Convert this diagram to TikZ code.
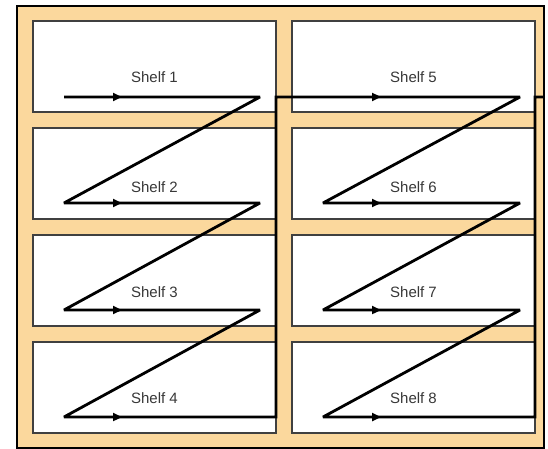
\documentclass[tikz,border=0pt]{standalone}
\usepackage{fontspec}
\setmainfont{Liberation Sans}
\usetikzlibrary{arrows.meta}
\definecolor{shelftan}{RGB}{251,216,157}
\begin{document}
\begin{tikzpicture}[x=1pt,y=-1pt,
  framebox/.style={draw=black,line width=1.8pt,fill=shelftan},
  shelfbox/.style={draw=black!75,line width=1.2pt,fill=white,minimum width=243pt,minimum height=91pt,inner sep=0pt,outer sep=0pt,anchor=north west},
  shelflabel/.style={font=\fontsize{15}{17}\selectfont,text=black!78,inner sep=0pt},
  route/.style={line width=2.8pt,line join=miter,miter limit=3},
  tipline/.style={line width=2.8pt,-{Triangle[length=9pt,width=8pt]}}]
\useasboundingbox (0,0) rectangle (548,449);
\node[framebox,minimum width=527pt,minimum height=442pt,inner sep=0pt,anchor=north west] (frame) at (16,5) {};
% shelves
\node[shelfbox] (s1) at (33,21) {};
\node[shelfbox] (s2) at (33,128) {};
\node[shelfbox] (s3) at (33,235) {};
\node[shelfbox] (s4) at (33,342) {};
\node[shelfbox] (s5) at (292,21) {};
\node[shelfbox] (s6) at (292,128) {};
\node[shelfbox] (s7) at (292,235) {};
\node[shelfbox] (s8) at (292,342) {};
% labels
\node[shelflabel] (t1) at (154.5,77) {Shelf 1};
\node[shelflabel] (t2) at (154.5,187) {Shelf 2};
\node[shelflabel] (t3) at (154.5,292) {Shelf 3};
\node[shelflabel] (t4) at (154.5,398) {Shelf 4};
\node[shelflabel] (t5) at (413.5,77) {Shelf 5};
\node[shelflabel] (t6) at (413.5,187) {Shelf 6};
\node[shelflabel] (t7) at (413.5,292) {Shelf 7};
\node[shelflabel] (t8) at (413.5,398) {Shelf 8};
% route points
\coordinate (a1) at (64,97);  \coordinate (b1) at (260,97);
\coordinate (a2) at (64,203); \coordinate (b2) at (260,203);
\coordinate (a3) at (64,310); \coordinate (b3) at (260,310);
\coordinate (a4) at (64,417); \coordinate (b4) at (276,417);
\coordinate (up1) at (276,97);
\coordinate (b5) at (520,97);
\coordinate (a6) at (323,203); \coordinate (b6) at (520,203);
\coordinate (a7) at (323,310); \coordinate (b7) at (520,310);
\coordinate (a8) at (323,417); \coordinate (b8) at (535,417);
\coordinate (up2) at (535,97); \coordinate (out) at (543,97);
\draw[route] (a1) -- (b1) -- (a2) -- (b2) -- (a3) -- (b3) -- (a4) -- (b4) -- (up1) -- (b5) -- (a6) -- (b6) -- (a7) -- (b7) -- (a8) -- (b8) -- (up2) -- (out);
% arrow tips
\coordinate (h1) at (122,97);  \coordinate (h2) at (122,203);
\coordinate (h3) at (122,310); \coordinate (h4) at (122,417);
\coordinate (h5) at (381,97);  \coordinate (h6) at (381,203);
\coordinate (h7) at (381,310); \coordinate (h8) at (381,417);
\draw[tipline] (a1) -- (h1);
\draw[tipline] (a2) -- (h2);
\draw[tipline] (a3) -- (h3);
\draw[tipline] (a4) -- (h4);
\draw[tipline] (up1) -- (h5);
\draw[tipline] (a6) -- (h6);
\draw[tipline] (a7) -- (h7);
\draw[tipline] (a8) -- (h8);
\end{tikzpicture}
\end{document}
